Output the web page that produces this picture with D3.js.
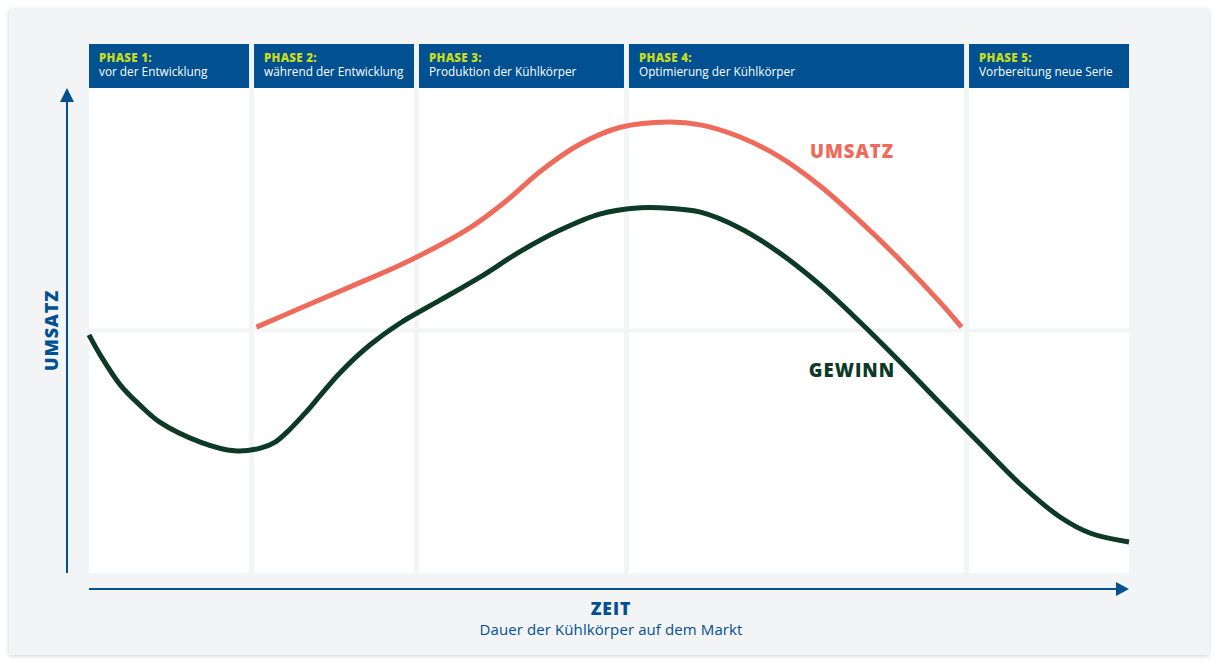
<!DOCTYPE html>
<html>
<head>
<meta charset="utf-8">
<script src="https://cdn.jsdelivr.net/npm/d3@7"></script>
<style>
  body { margin:0; background:#fff; }
  svg { display:block; font-family:"Open Sans", sans-serif; }
</style>
</head>
<body>
<script>
// phases: title, subtitle, right boundary in time units (0..100)
const phaseTitles = ['PHASE 1:', 'PHASE 2:', 'PHASE 3:', 'PHASE 4:', 'PHASE 5:']
const phaseNames = ['vor der Entwicklung', 'während der Entwicklung', 'Produktion der Kühlkörper',
                    'Optimierung der Kühlkörper', 'Vorbereitung neue Serie']
const phaseEnds = [15.63, 31.49, 51.68, 84.38, 100]

// curves: [time, value]
const umsatzT = [16.1, 20.3, 25.1, 30.9, 36.5, 40.0, 43.5, 47.2, 51.1, 55.7, 58.8, 62.6, 66.4, 70.3, 74.1, 78.0, 81.8, 83.9]
const umsatzV = [50.7, 54.6, 59.0, 64.5, 71.0, 76.5, 83.0, 88.4, 91.9, 93.0, 92.4, 89.9, 85.8, 79.8, 72.6, 64.5, 55.9, 50.7]

const gewinnT = [0, 1.1, 3.0, 4.9, 6.8, 10.7, 14.0, 16.4, 17.9, 19.3, 20.8, 22.2, 24.1, 27.0, 29.9, 33.8, 37.6, 41.4,
                 45.3, 49.1, 53.0, 54.9, 58.8, 62.6, 66.4, 70.3, 74.1, 78.0, 81.8, 85.7, 89.5, 93.4, 96.3, 100]
const gewinnV = [49.1, 44.9, 38.8, 34.6, 31.1, 27.0, 25.2, 25.7, 27.0, 29.6, 33.0, 36.5, 41.2, 47.0, 51.5, 56.3, 61.0, 66.2,
                 70.7, 74.0, 75.3, 75.3, 74.4, 71.1, 66.0, 59.4, 51.8, 43.5, 35.1, 26.6, 18.4, 11.5, 8.2, 6.4]

const BLUE = '#005092'
const LIME = '#c6dc1c'
const RED = '#ee6b5b'
const GREEN = '#0d3a26'
const BG = '#f3f4f6'

const W = 1218, H = 663
const svg = d3.select('body').append('svg').attr('width', W).attr('height', H)

const defs = svg.append('defs')
const shadow = defs.append('filter').attr('id', 'shadow')
  .attr('x', '-5%').attr('y', '-5%').attr('width', '110%').attr('height', '110%')
shadow.append('feDropShadow').attr('dx', 0).attr('dy', 1).attr('stdDeviation', 2)
  .attr('flood-color', '#000').attr('flood-opacity', 0.18)

// card
svg.append('rect').attr('x', 9).attr('y', 9).attr('width', 1200).attr('height', 646)
  .attr('fill', BG).attr('filter', 'url(#shadow)')

const x = d3.scaleLinear().domain([0, 100]).range([89, 1129])
const y = d3.scaleLinear().domain([0, 100]).range([573, 88])

const GAP = 5
const headerTop = 44

const phases = phaseTitles.map((t, i) => ({
  title: t, name: phaseNames[i],
  start: i === 0 ? 0 : phaseEnds[i - 1], end: phaseEnds[i], i
}))

const cols = svg.selectAll('g.phase').data(phases).enter().append('g').attr('class', 'phase')

const colX0 = d => x(d.start) + (d.i === 0 ? 0 : GAP / 2)
const colX1 = d => x(d.end) - (d.i === phases.length - 1 ? 0 : GAP / 2)

// white panels, split at the midline
cols.append('rect')
  .attr('x', colX0).attr('width', d => colX1(d) - colX0(d))
  .attr('y', y(100)).attr('height', y(50) - GAP / 2 + 0.5 - y(100))
  .attr('fill', '#fff')
cols.append('rect')
  .attr('x', colX0).attr('width', d => colX1(d) - colX0(d))
  .attr('y', y(50) + GAP / 2 - 0.5).attr('height', y(0) - y(50) - GAP / 2 + 0.5)
  .attr('fill', '#fff')

// headers
cols.append('rect')
  .attr('x', colX0).attr('width', d => colX1(d) - colX0(d))
  .attr('y', headerTop).attr('height', y(100) - headerTop)
  .attr('fill', BLUE)
cols.append('text')
  .attr('x', d => colX0(d) + 10).attr('y', 62)
  .attr('fill', LIME).attr('font-size', 11.5).attr('font-weight', 800).attr('letter-spacing', 0.3)
  .text(d => d.title)
cols.append('text')
  .attr('x', d => colX0(d) + 10).attr('y', 76)
  .attr('fill', '#fff').attr('font-size', 11.8)
  .text(d => d.name)

// curves
const line = d3.line().x(d => x(d[0])).y(d => y(d[1])).curve(d3.curveCatmullRom.alpha(0.5))

svg.append('path').datum(umsatzT.map((t, i) => [t, umsatzV[i]]))
  .attr('d', line).attr('fill', 'none').attr('stroke', RED).attr('stroke-width', 5)
svg.append('path').datum(gewinnT.map((t, i) => [t, gewinnV[i]]))
  .attr('d', line).attr('fill', 'none').attr('stroke', GREEN).attr('stroke-width', 5)

svg.append('text').attr('x', 852).attr('y', 158).attr('text-anchor', 'middle')
  .attr('fill', RED).attr('font-size', 18.5).attr('font-weight', 800).attr('letter-spacing', 1)
  .text('UMSATZ')
svg.append('text').attr('x', 852).attr('y', 377).attr('text-anchor', 'middle')
  .attr('fill', GREEN).attr('font-size', 18.5).attr('font-weight', 800).attr('letter-spacing', 1)
  .text('GEWINN')

// axes with arrows
svg.append('line').attr('x1', 67).attr('x2', 67).attr('y1', y(0)).attr('y2', 100)
  .attr('stroke', BLUE).attr('stroke-width', 2)
svg.append('path').attr('d', `M67,88 L60,102 L74,102 Z`).attr('fill', BLUE)

svg.append('line').attr('x1', x(0)).attr('x2', 1118).attr('y1', 589).attr('y2', 589)
  .attr('stroke', BLUE).attr('stroke-width', 2)
svg.append('path').attr('d', `M1129,589 L1116,582 L1116,596 Z`).attr('fill', BLUE)

svg.append('text').attr('transform', `translate(58,${y(50)}) rotate(-90)`)
  .attr('text-anchor', 'middle').attr('fill', BLUE).attr('font-size', 18).attr('font-weight', 800)
  .attr('letter-spacing', 0.8)
  .text('UMSATZ')

svg.append('text').attr('x', 611).attr('y', 615).attr('text-anchor', 'middle')
  .attr('fill', BLUE).attr('font-size', 17.5).attr('font-weight', 800).attr('letter-spacing', 1)
  .text('ZEIT')
svg.append('text').attr('x', 611).attr('y', 635).attr('text-anchor', 'middle')
  .attr('fill', BLUE).attr('font-size', 15).attr('letter-spacing', 0.1)
  .text('Dauer der Kühlkörper auf dem Markt')
</script>
</body>
</html>
